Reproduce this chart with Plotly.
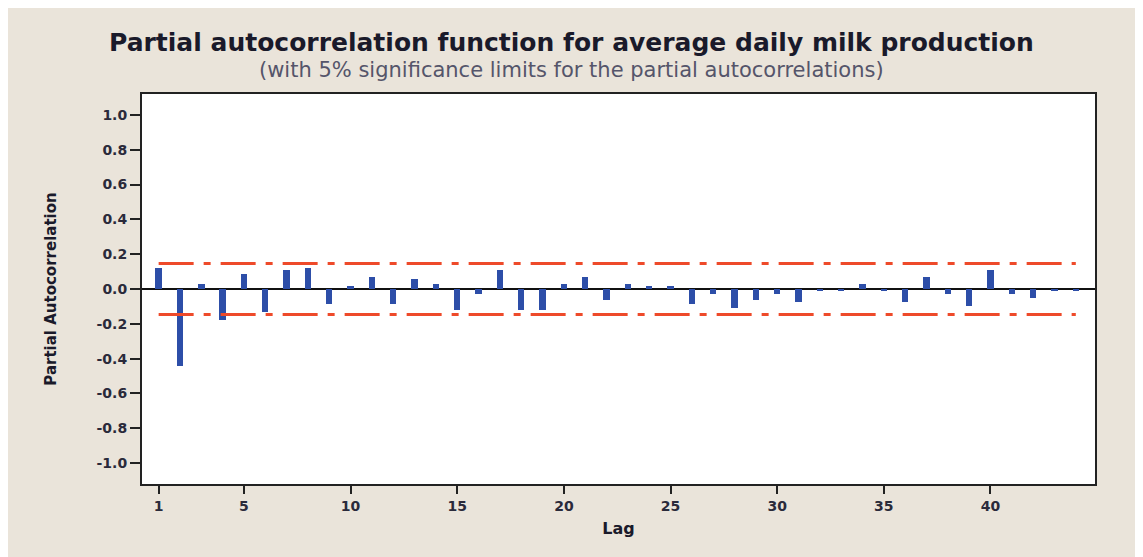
import plotly.graph_objects as go

lags = list(range(1, 45))
pacf = [0.121, -0.441, 0.031, -0.176, 0.085, -0.134, 0.110, 0.121, -0.087, 0.018,
        0.070, -0.085, 0.058, 0.031, -0.123, -0.031, 0.108, -0.123, -0.123, 0.030,
        0.070, -0.062, 0.030, 0.018, 0.018, -0.085, -0.031, -0.111, -0.062, -0.031,
        -0.073, -0.010, -0.010, 0.031, -0.010, -0.073, 0.070, -0.031, -0.100, 0.108,
        -0.031, -0.050, -0.010, -0.010]
limit = 0.147
y_ticks = [1.0, 0.8, 0.6, 0.4, 0.2, 0.0, -0.2, -0.4, -0.6, -0.8, -1.0]
x_ticks = [1, 5, 10, 15, 20, 25, 30, 35, 40]

fig = go.Figure()
fig.add_trace(go.Bar(x=lags, y=pacf, width=0.3, marker=dict(color="#2D4EA8", line=dict(width=0)),
                     showlegend=False))
for s in (1, -1):
    fig.add_trace(go.Scatter(x=[lags[0], lags[-1]], y=[s * limit, s * limit], mode="lines",
                             line=dict(color="#EE4A2A", width=3, dash="35px,10px,7px,10px"),
                             showlegend=False, hoverinfo="skip"))

fig.update_layout(
    width=1135, height=549,
    margin=dict(l=134, r=48, t=86, b=73),
    paper_bgcolor="#EAE4DA", plot_bgcolor="#FFFFFF",
    annotations=[
        dict(text="<b>Partial autocorrelation function for average daily milk production</b>",
             xref="paper", yref="paper", x=0.451, y=1.0 + (94 - 42) / 390, xanchor="center", yanchor="middle",
             showarrow=False, font=dict(family="DejaVu Sans", size=25, color="#1A1A2A")),
        dict(text="(with 5% significance limits for the partial autocorrelations)",
             xref="paper", yref="paper", x=0.451, y=1.0 + (94 - 70) / 390, xanchor="center", yanchor="middle",
             showarrow=False, font=dict(family="DejaVu Sans", size=21, color="#55556A")),
    ],
    bargap=0,
)
fig.update_xaxes(range=[0.22, 44.9], tickmode="array", tickvals=x_ticks,
                 ticks="outside", ticklen=8, tickwidth=2, tickcolor="#222",
                 showline=True, linewidth=2, linecolor="#222", mirror=True,
                 showgrid=False, zeroline=False,
                 tickfont=dict(family="DejaVu Sans", size=14, color="#2A2A3A", weight="bold"),
                 title=dict(text="<b>Lag</b>", font=dict(family="DejaVu Sans", size=16, color="#1A1A2A"), standoff=10))
fig.update_yaxes(range=[-1.12, 1.12], tickmode="array", tickvals=y_ticks,
                 ticktext=["%.1f" % v for v in y_ticks],
                 ticks="outside", ticklen=10, tickwidth=2, tickcolor="#222",
                 showline=True, linewidth=2, linecolor="#222", mirror=True,
                 showgrid=False, zeroline=True, zerolinecolor="#111", zerolinewidth=2,
                 tickfont=dict(family="DejaVu Sans", size=14, color="#2A2A3A", weight="bold"),
                 title=dict(text="<b>Partial Autocorrelation</b>", font=dict(family="DejaVu Sans", size=15, color="#1A1A2A"), standoff=36))

fig.write_html("out.html")
